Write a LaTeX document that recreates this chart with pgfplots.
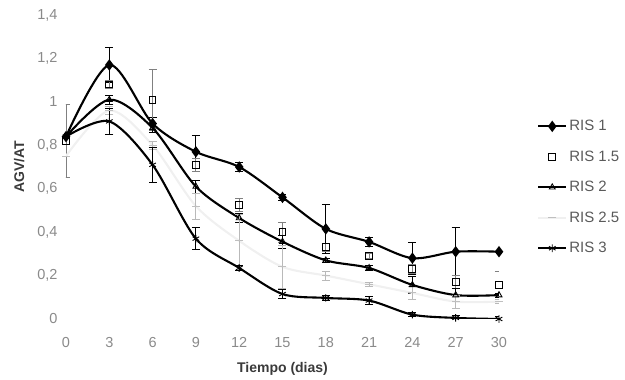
\documentclass[border=0pt]{standalone}
\usepackage{pgfplots}
\pgfplotsset{compat=1.18}
\usepackage{pgfplotstable}
\usepackage{fontspec}
\setmainfont{Liberation Sans}
\definecolor{tickgray}{HTML}{8A8A8A}
\definecolor{labgray}{HTML}{3A3A3A}
\definecolor{leggray}{HTML}{5A5A5A}
\definecolor{lightser}{HTML}{F0F0F0}

\pgfplotsset{
  linelegend/.style={legend image code/.code={
    \draw[##1] (0pt,0pt) -- (28pt,0pt);
    \draw[##1, only marks] plot coordinates {(14pt,0pt)};}},
  marklegend/.style={legend image code/.code={
    \draw[##1, only marks] plot coordinates {(14pt,0pt)};}},
}

\pgfplotstableread{
x y ey
0 0.84 0
3 1.17 0.08
6 0.90 0.03
9 0.77 0.075
12 0.70 0.02
15 0.56 0.015
18 0.415 0.115
21 0.355 0.02
24 0.28 0.075
27 0.31 0.11
30 0.31 0
}\risone
\pgfplotstableread{
x y ey
0 0.82 0.17
3 1.08 0.02
6 1.01 0.14
9 0.71 0.03
12 0.525 0.03
15 0.40 0.045
18 0.33 0.02
21 0.29 0.01
24 0.23 0.02
27 0.17 0.03
30 0.155 0.065
}\risonefive
\pgfplotstableread{
x y ey
0 0.84 0
3 1.01 0.02
6 0.88 0.02
9 0.61 0.03
12 0.465 0.02
15 0.356 0.03
18 0.27 0.01
21 0.235 0.01
24 0.157 0.04
27 0.11 0.03
30 0.11 0.01
}\ristwo
\pgfplotstableread{
x y ey
0 0.75 0
3 0.96 0.02
6 0.80 0.02
9 0.52 0.06
12 0.36 0.12
15 0.24 0.10
18 0.20 0.02
21 0.16 0.01
24 0.12 0.03
27 0.08 0.03
30 0.08 0.01
}\ristwofive
\pgfplotstableread{
x y ey
0 0.84 0
3 0.91 0.06
6 0.71 0.08
9 0.37 0.05
12 0.235 0.01
15 0.115 0.02
18 0.097 0.01
21 0.085 0.02
24 0.02 0.01
27 0.005 0.01
30 0.0 0.01
}\risthree

\begin{document}
\begin{tikzpicture}
\path[use as bounding box] (-66pt,-61pt) rectangle (559pt,319pt);
\begin{axis}[
  scale only axis,
  width=433pt, height=304pt,
  xmin=0, xmax=30, ymin=0, ymax=1.4,
  xtick={0,3,...,30},
  ytick={0,0.2,...,1.4},
  axis line style={draw=none},
  tick style={draw=none},
  /pgf/number format/assume math mode=true,
  /pgf/number format/use comma,
  tick label style={font=\fontsize{14.5}{16}\selectfont, text=tickgray},
  yticklabel style={xshift=-5pt},
  xticklabel style={yshift=-15pt},
  xlabel={Tiempo (dias)},
  ylabel={AGV/AT},
  label style={font=\fontsize{14}{16}\selectfont\bfseries, text=labgray},
  xlabel style={yshift=-8pt},
  ylabel style={yshift=6pt},
  legend style={draw=none, fill=none, at={(468pt,205pt)}, anchor=north west,
    font=\fontsize{15}{17}\selectfont, text=leggray, row sep=14.5pt,
    legend cell align=left},
  error bars/y dir=both, error bars/y explicit,
]
\addplot[color=black, line width=2.1pt, smooth, mark=diamond*, mark size=4pt,
  linelegend,
  error bars/error bar style={black, line width=0.8pt},
  error bars/error mark options={black, rotate=90, mark size=4pt, line width=0.8pt}]
  table[x=x, y=y, y error=ey] {\risone};
\addlegendentry{RIS 1}
\addplot[color=black, only marks, mark=square, mark size=3.4pt, line width=1pt,
  marklegend,
  error bars/error bar style={gray, line width=0.8pt},
  error bars/error mark options={gray, rotate=90, mark size=4pt, line width=0.8pt}]
  table[x=x, y=y, y error=ey] {\risonefive};
\addlegendentry{RIS 1.5}
\addplot[color=black, line width=2.1pt, smooth, mark=triangle, mark size=3.4pt,
  mark options={solid, line width=0.9pt}, linelegend,
  error bars/error bar style={black, line width=0.8pt},
  error bars/error mark options={black, rotate=90, mark size=4pt, line width=0.8pt}]
  table[x=x, y=y, y error=ey] {\ristwo};
\addlegendentry{RIS 2}
\addplot[color=lightser, line width=2.1pt, smooth, mark=-, mark size=4pt,
  mark options={gray!50, line width=0.9pt}, linelegend,
  error bars/error bar style={gray!55, line width=0.8pt},
  error bars/error mark options={gray!55, rotate=90, mark size=4pt, line width=0.8pt}]
  table[x=x, y=y, y error=ey] {\ristwofive};
\addlegendentry{RIS 2.5}
\addplot[color=black, line width=2.1pt, smooth, mark=asterisk, mark size=3.8pt,
  mark options={line width=0.9pt}, linelegend,
  error bars/error bar style={black, line width=0.8pt},
  error bars/error mark options={black, rotate=90, mark size=4pt, line width=0.8pt}]
  table[x=x, y=y, y error=ey] {\risthree};
\addlegendentry{RIS 3}
\end{axis}
\end{tikzpicture}
\end{document}
